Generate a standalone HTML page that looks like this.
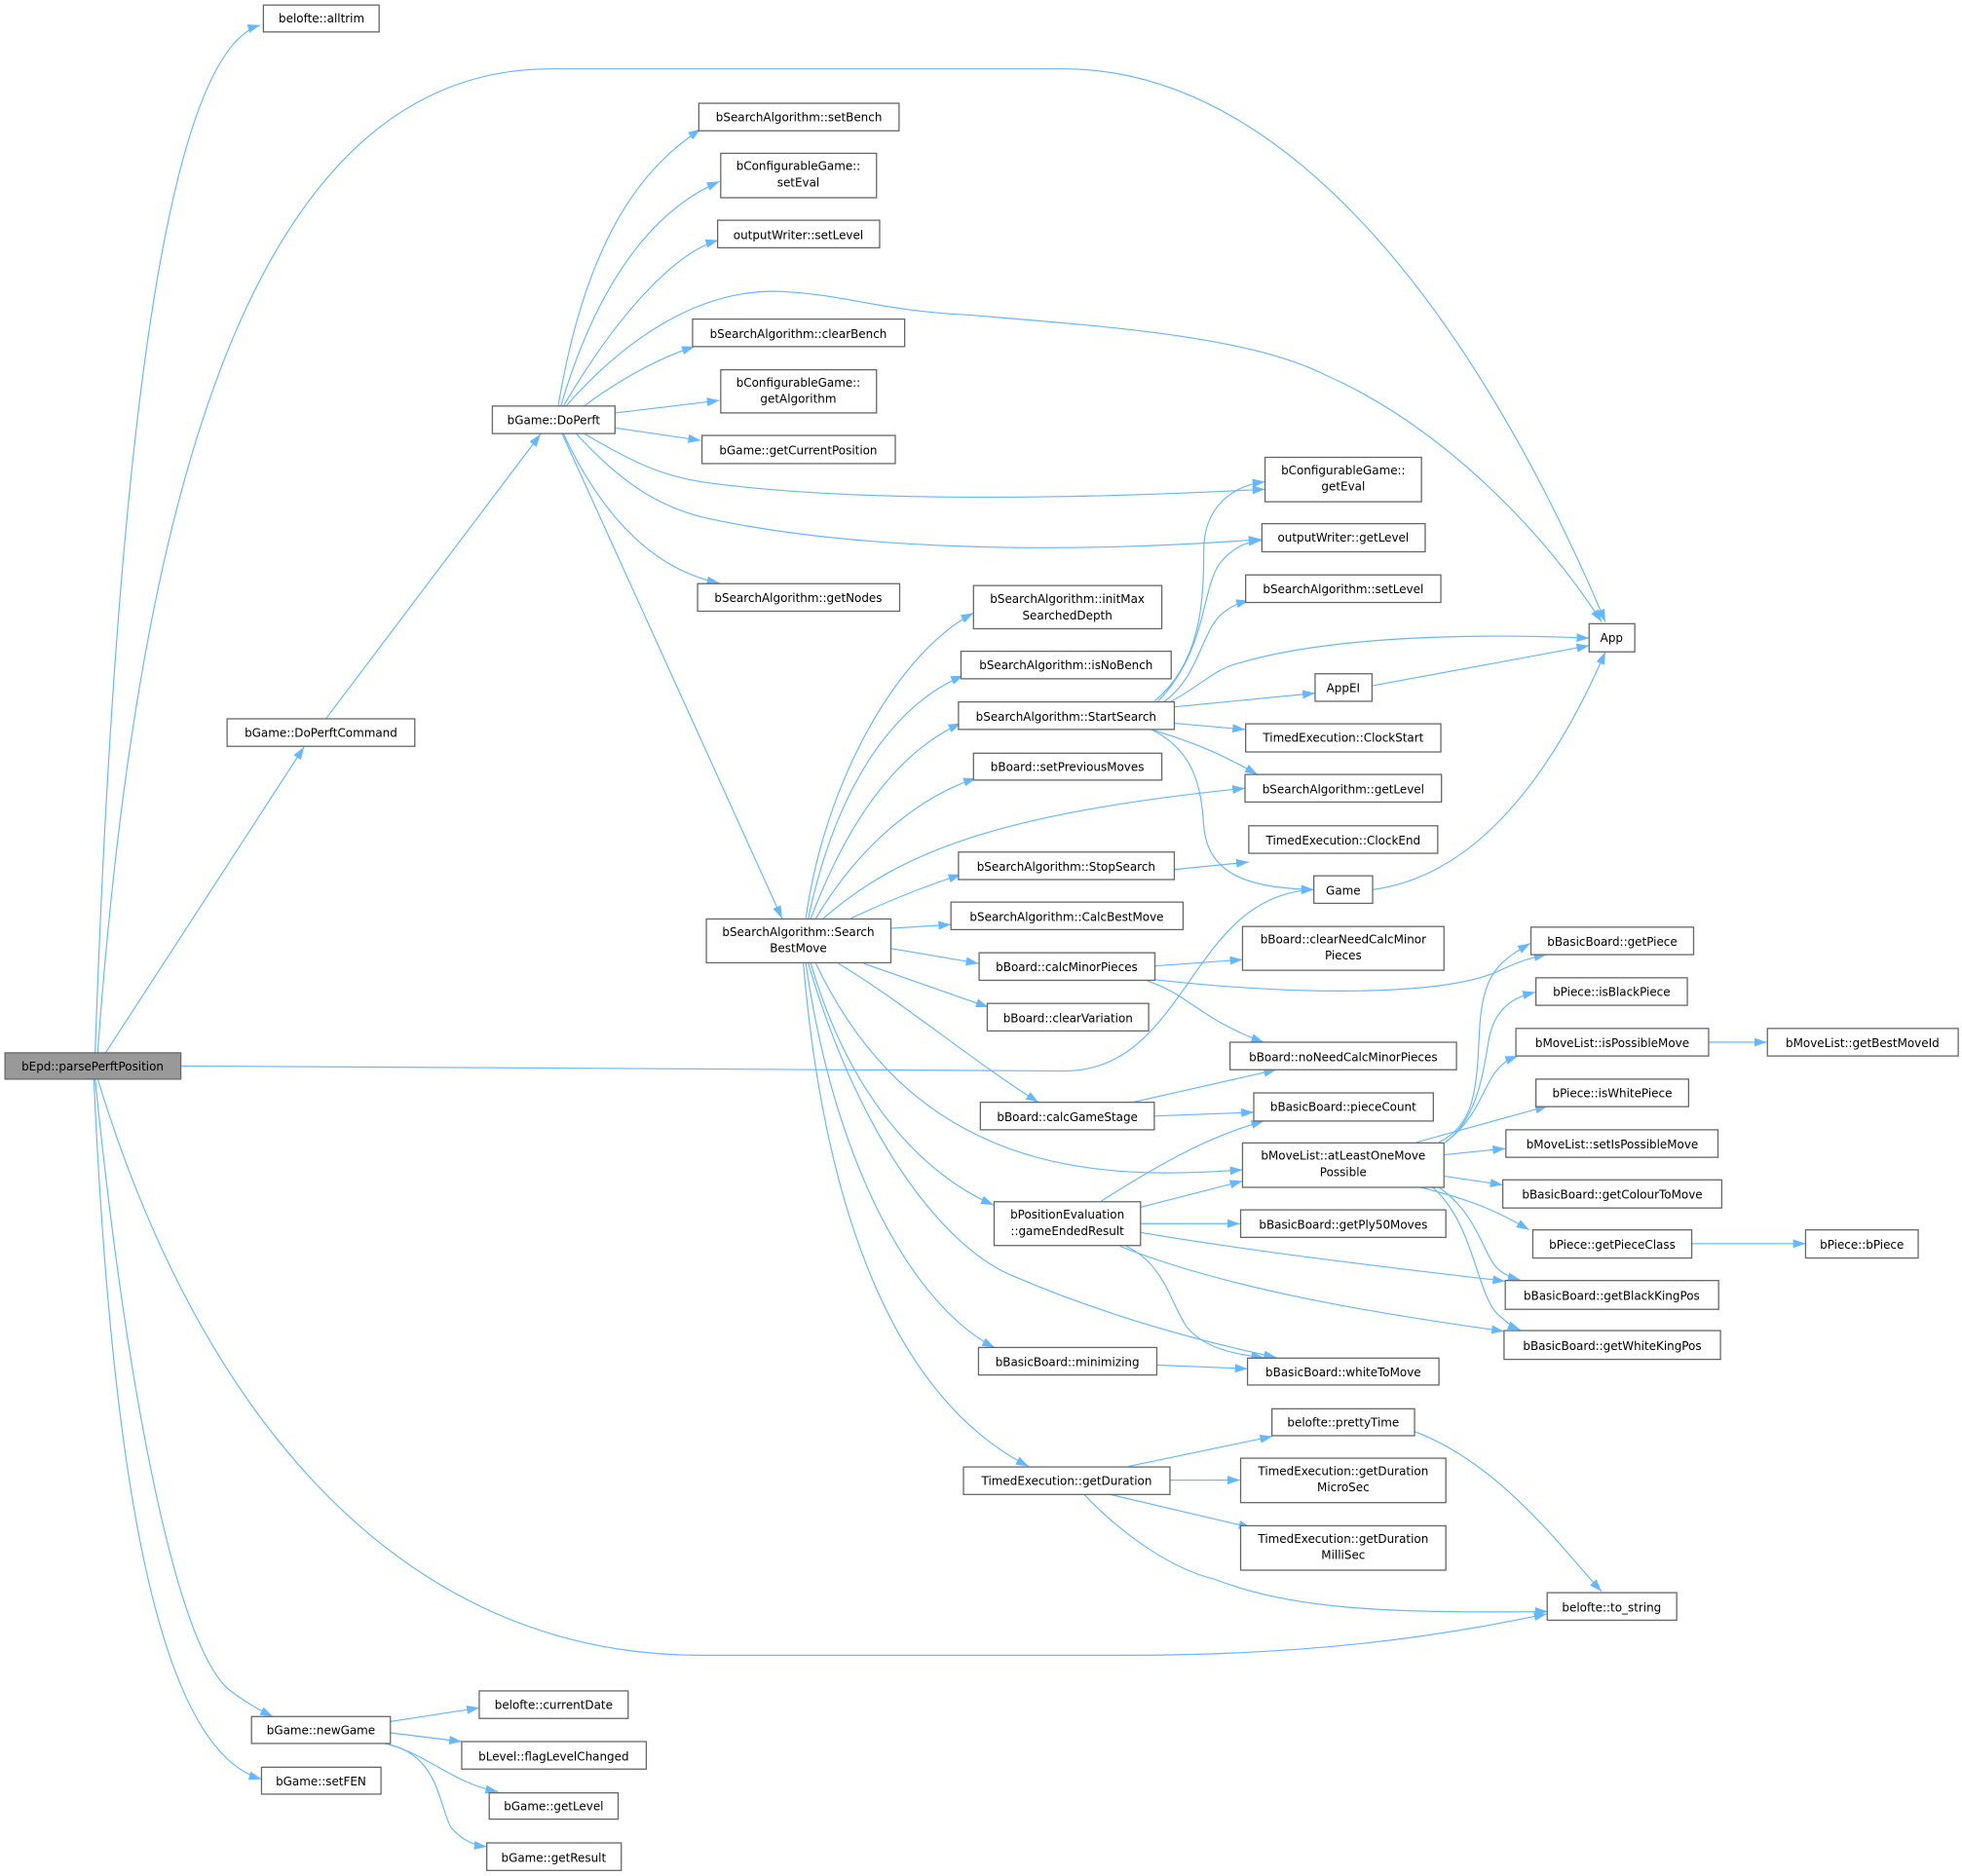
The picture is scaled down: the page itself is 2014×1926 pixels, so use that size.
<!DOCTYPE html>
<html><head><meta charset="utf-8"><style>
html,body{margin:0;padding:0;background:#fff;}
svg{display:block;}
text{font-family:"DejaVu Sans","Liberation Sans",sans-serif;font-size:9.3px;fill:#000;text-anchor:middle;}
.n{fill:#fff;stroke:#666;stroke-width:1;}
.e{fill:none;stroke:#63b8ff;stroke-width:0.9;marker-end:url(#a);}
</style></head><body>
<svg width="2014" height="1926" viewBox="0 0 1568 1499.4" xmlns="http://www.w3.org/2000/svg">
<defs><marker id="a" markerUnits="userSpaceOnUse" markerWidth="10" markerHeight="8" refX="10" refY="3.5" orient="auto"><path d="M0,0 L10,3.5 L0,7 z" fill="#63b8ff"/></marker></defs>

<!-- edges -->
<path class="e" d="M76,842 C95,300 140,40 208,20"/>
<path class="e" d="M78,842 C110,400 200,55 440,55 L850,55 C1050,55 1200,300 1283,497"/>
<path class="e" d="M84,842 L243,597"/>
<path class="e" d="M260,575 L432,347"/>
<path class="e" d="M145,852 L850,856 C950,856 950,715 1050,711"/>
<path class="e" d="M78,862 C150,1100 300,1323 560,1323 L900,1323 C1050,1323 1150,1308 1236,1290"/>
<path class="e" d="M76,862 C100,1100 140,1320 185,1352 C200,1363 208,1367 218,1372"/>
<path class="e" d="M75,862 C90,1200 130,1400 209,1422"/>

<path class="e" d="M446,325 C470,180 520,130 560,103"/>
<path class="e" d="M448,325 C485,200 540,160 575,145"/>
<path class="e" d="M450,325 C500,240 545,200 574,192"/>
<path class="e" d="M452,325 C500,270 560,230 625,233 C680,236 700,248 778,252 C900,262 1000,270 1060,300 C1150,340 1230,420 1280,497"/>
<path class="e" d="M466,325 C500,300 530,285 555,277"/>
<path class="e" d="M492,330 L575,320"/>
<path class="e" d="M492,342 L560,352"/>
<path class="e" d="M466,346 C510,372 530,380 560,385 C650,398 800,402 1011,391"/>
<path class="e" d="M460,346 C500,390 530,405 560,413 C680,440 850,443 1008,431"/>
<path class="e" d="M450,346 C480,410 520,455 575,466"/>
<path class="e" d="M449,346 L625,734"/>

<path class="e" d="M644,734 C660,620 720,520 778,490"/>
<path class="e" d="M646,734 C670,620 720,560 770,540"/>
<path class="e" d="M648,734 C680,650 720,600 768,578"/>
<path class="e" d="M652,734 C690,670 740,635 780,622"/>
<path class="e" d="M658,734 C720,680 800,650 995,630"/>
<path class="e" d="M680,734 C710,720 740,708 768,699"/>
<path class="e" d="M712,742 L760,739"/>
<path class="e" d="M712,758 L782,770"/>
<path class="e" d="M690,770 L790,805"/>
<path class="e" d="M670,770 C720,800 780,850 830,881"/>
<path class="e" d="M652,770 C690,850 750,910 850,930 C900,940 950,938 993,935"/>
<path class="e" d="M648,770 C680,880 740,940 794,963"/>
<path class="e" d="M646,770 C690,920 760,1000 810,1020 C880,1050 950,1070 1020,1085"/>
<path class="e" d="M644,770 C670,950 740,1050 795,1077"/>
<path class="e" d="M642,770 C660,980 720,1120 822,1172"/>

<path class="e" d="M922,561 C960,530 962,480 962,440 C962,405 985,388 1011,385"/>
<path class="e" d="M925,561 C965,520 960,470 975,450 C985,438 995,433 1008,432"/>
<path class="e" d="M930,561 C960,540 960,500 980,488 C985,484 990,482 998,480"/>
<path class="e" d="M935,561 C960,548 970,535 990,530 C1050,512 1150,505 1270,510"/>
<path class="e" d="M938,565 L1051,554"/>
<path class="e" d="M1097,548 L1270,516"/>
<path class="e" d="M938,578 L995,583"/>
<path class="e" d="M920,583 C960,595 980,605 1005,619"/>
<path class="e" d="M920,583 C955,600 960,630 962,660 C965,700 1000,710 1050,711"/>
<path class="e" d="M938,695 L998,689"/>
<path class="e" d="M1097,711 C1180,700 1240,620 1283,521"/>

<path class="e" d="M923,772 L993,767"/>
<path class="e" d="M923,783 C1050,797 1160,795 1200,775 C1215,768 1225,765 1236,763"/>
<path class="e" d="M917,784 C950,795 960,815 1010,833"/>
<path class="e" d="M905,881 L1020,855"/>
<path class="e" d="M922,892 L1002,889"/>
<path class="e" d="M880,960 C920,935 960,910 1010,896"/>
<path class="e" d="M911,965 L993,944"/>
<path class="e" d="M911,978 L991,978"/>
<path class="e" d="M911,985 C1000,1000 1100,1012 1203,1024"/>
<path class="e" d="M895,996 C980,1030 1100,1050 1202,1064"/>
<path class="e" d="M900,996 C930,1010 935,1040 948,1060 C960,1075 980,1082 1010,1085"/>
<path class="e" d="M924,1091 L997,1094"/>

<path class="e" d="M1150,913 C1175,900 1180,880 1182,830 C1184,780 1195,770 1223,754"/>
<path class="e" d="M1155,913 C1180,895 1185,860 1190,830 C1195,805 1210,797 1227,793"/>
<path class="e" d="M1155,913 C1180,895 1185,870 1195,857 C1200,850 1205,847 1213,844"/>
<path class="e" d="M1132,913 L1237,884"/>
<path class="e" d="M1154,923 L1203,918"/>
<path class="e" d="M1154,940 L1201,947"/>
<path class="e" d="M1135,949 C1180,960 1200,970 1222,983"/>
<path class="e" d="M1150,949 C1180,970 1185,1000 1195,1012 C1200,1018 1207,1021 1215,1023"/>
<path class="e" d="M1145,949 C1180,980 1180,1040 1200,1053 C1205,1058 1210,1061 1215,1063"/>
<path class="e" d="M1366,833 L1412,833"/>
<path class="e" d="M1352,994 L1443,994"/>

<path class="e" d="M902,1172 L1017,1148"/>
<path class="e" d="M935,1183 L991,1183"/>
<path class="e" d="M885,1194 L1000,1221"/>
<path class="e" d="M866,1194 C900,1230 940,1255 970,1262 C1030,1285 1100,1290 1237,1288"/>
<path class="e" d="M1130,1144 C1200,1170 1250,1240 1280,1272"/>

<path class="e" d="M312,1376 L383,1365"/>
<path class="e" d="M312,1385 L369,1392"/>
<path class="e" d="M305,1393 C340,1400 360,1425 398,1432"/>
<path class="e" d="M305,1393 C350,1400 350,1440 360,1460 C370,1472 380,1475 389,1476"/>

<!-- nodes -->
<rect x="4" y="841.5" width="140.5" height="21" fill="#999" stroke="#666"/><text x="74" y="855.5">bEpd::parsePerftPosition</text>
<rect class="n" x="210.5" y="4" width="92.5" height="21.5"/><text x="257" y="18">belofte::alltrim</text>
<rect class="n" x="1270" y="498.5" width="36.5" height="22.5"/><text x="1288" y="513">App</text>
<rect class="n" x="558.5" y="82.5" width="160" height="22"/><text x="638.5" y="97">bSearchAlgorithm::setBench</text>
<rect class="n" x="576" y="122.5" width="124.5" height="35.5"/><text x="638" y="136">bConfigurableGame::</text><text x="638" y="149">setEval</text>
<rect class="n" x="573.5" y="176" width="129.5" height="22"/><text x="638" y="191">outputWriter::setLevel</text>
<rect class="n" x="553.5" y="255" width="169.5" height="22"/><text x="638" y="270">bSearchAlgorithm::clearBench</text>
<rect class="n" x="576" y="295.5" width="124.5" height="34.5"/><text x="638" y="309">bConfigurableGame::</text><text x="638" y="322">getAlgorithm</text>
<rect class="n" x="561" y="348" width="154.5" height="22.5"/><text x="638" y="363">bGame::getCurrentPosition</text>
<rect class="n" x="393.5" y="324.5" width="98" height="22"/><text x="442.5" y="339">bGame::DoPerft</text>
<rect class="n" x="557.5" y="466.5" width="161.5" height="22"/><text x="638" y="481">bSearchAlgorithm::getNodes</text>
<rect class="n" x="181.5" y="574.5" width="150" height="22"/><text x="256.5" y="589">bGame::DoPerftCommand</text>
<rect class="n" x="1011" y="365.5" width="125" height="35.5"/><text x="1073.5" y="379">bConfigurableGame::</text><text x="1073.5" y="392">getEval</text>
<rect class="n" x="1008.5" y="418.5" width="130.5" height="22.5"/><text x="1073.5" y="433">outputWriter::getLevel</text>
<rect class="n" x="995.5" y="459.5" width="156" height="22"/><text x="1073.5" y="474">bSearchAlgorithm::setLevel</text>
<rect class="n" x="778" y="468" width="150.5" height="34.5"/><text x="853" y="482">bSearchAlgorithm::initMax</text><text x="853" y="495">SearchedDepth</text>
<rect class="n" x="768" y="520.5" width="168" height="22"/><text x="852" y="535">bSearchAlgorithm::isNoBench</text>
<rect class="n" x="766" y="561" width="172.5" height="22"/><text x="852" y="576">bSearchAlgorithm::StartSearch</text>
<rect class="n" x="1051" y="538.5" width="45.5" height="22"/><text x="1073.5" y="553">AppEI</text>
<rect class="n" x="995.5" y="578.5" width="156" height="22.5"/><text x="1073.5" y="593">TimedExecution::ClockStart</text>
<rect class="n" x="778" y="602" width="150.5" height="21.5"/><text x="853" y="616">bBoard::setPreviousMoves</text>
<rect class="n" x="995" y="619" width="157" height="22"/><text x="1073.5" y="634">bSearchAlgorithm::getLevel</text>
<rect class="n" x="998" y="660" width="151" height="22"/><text x="1073.5" y="675">TimedExecution::ClockEnd</text>
<rect class="n" x="766" y="681" width="172.5" height="22"/><text x="852" y="696">bSearchAlgorithm::StopSearch</text>
<rect class="n" x="1050" y="700" width="47" height="22"/><text x="1073.5" y="715">Game</text>
<rect class="n" x="760" y="721" width="185.5" height="22"/><text x="852.5" y="736">bSearchAlgorithm::CalcBestMove</text>
<rect class="n" x="564.5" y="734.5" width="147.5" height="35"/><text x="638" y="748">bSearchAlgorithm::Search</text><text x="638" y="761">BestMove</text>
<rect class="n" x="782.5" y="761.5" width="140.5" height="22"/><text x="852.5" y="776">bBoard::calcMinorPieces</text>
<rect class="n" x="993" y="740.5" width="161" height="35"/><text x="1073.5" y="754">bBoard::clearNeedCalcMinor</text><text x="1073.5" y="767">Pieces</text>
<rect class="n" x="1223.5" y="741" width="130" height="22"/><text x="1288.5" y="756">bBasicBoard::getPiece</text>
<rect class="n" x="789" y="802" width="129" height="22"/><text x="853.5" y="817">bBoard::clearVariation</text>
<rect class="n" x="1227.5" y="781.5" width="121" height="22"/><text x="1288" y="796">bPiece::isBlackPiece</text>
<rect class="n" x="1211.5" y="822" width="154" height="22"/><text x="1288.5" y="837">bMoveList::isPossibleMove</text>
<rect class="n" x="1412.5" y="822" width="152.5" height="22"/><text x="1488.5" y="837">bMoveList::getBestMoveId</text>
<rect class="n" x="983" y="833" width="181" height="22"/><text x="1073.5" y="848">bBoard::noNeedCalcMinorPieces</text>
<rect class="n" x="1227.5" y="862.5" width="122" height="22"/><text x="1288.5" y="877">bPiece::isWhitePiece</text>
<rect class="n" x="783.5" y="881" width="139" height="22"/><text x="853" y="896">bBoard::calcGameStage</text>
<rect class="n" x="1002" y="873.5" width="143.5" height="22.5"/><text x="1073.5" y="888">bBasicBoard::pieceCount</text>
<rect class="n" x="1203.5" y="903" width="169.5" height="22"/><text x="1288.5" y="918">bMoveList::setIsPossibleMove</text>
<rect class="n" x="993" y="913.5" width="161" height="35.5"/><text x="1073.5" y="927">bMoveList::atLeastOneMove</text><text x="1073.5" y="940">Possible</text>
<rect class="n" x="1201" y="943" width="175" height="22.5"/><text x="1288.5" y="958">bBasicBoard::getColourToMove</text>
<rect class="n" x="794.5" y="960.5" width="117" height="35"/><text x="853" y="974">bPositionEvaluation</text><text x="853" y="987">::gameEndedResult</text>
<rect class="n" x="991.5" y="967" width="164" height="22"/><text x="1073.5" y="982">bBasicBoard::getPly50Moves</text>
<rect class="n" x="1225" y="983" width="127" height="22.5"/><text x="1288.5" y="998">bPiece::getPieceClass</text>
<rect class="n" x="1443" y="983" width="90" height="22.5"/><text x="1488" y="998">bPiece::bPiece</text>
<rect class="n" x="1203" y="1023.5" width="170.5" height="23"/><text x="1288" y="1039">bBasicBoard::getBlackKingPos</text>
<rect class="n" x="1202" y="1063.5" width="173" height="23"/><text x="1288.5" y="1079">bBasicBoard::getWhiteKingPos</text>
<rect class="n" x="782" y="1077" width="142.5" height="22"/><text x="853" y="1092">bBasicBoard::minimizing</text>
<rect class="n" x="997" y="1085.5" width="153" height="21.5"/><text x="1073.5" y="1100">bBasicBoard::whiteToMove</text>
<rect class="n" x="1016.5" y="1126" width="114" height="21.5"/><text x="1073.5" y="1140">belofte::prettyTime</text>
<rect class="n" x="770" y="1172.5" width="165" height="22"/><text x="852.5" y="1187">TimedExecution::getDuration</text>
<rect class="n" x="991.5" y="1165.5" width="164" height="35.5"/><text x="1073.5" y="1179">TimedExecution::getDuration</text><text x="1073.5" y="1192">MicroSec</text>
<rect class="n" x="991.5" y="1219.5" width="164" height="35.5"/><text x="1073.5" y="1233">TimedExecution::getDuration</text><text x="1073.5" y="1246">MilliSec</text>
<rect class="n" x="1236.5" y="1273" width="103.5" height="22"/><text x="1288" y="1288">belofte::to_string</text>
<rect class="n" x="201" y="1372" width="111" height="21.5"/><text x="256.5" y="1386">bGame::newGame</text>
<rect class="n" x="383" y="1351.5" width="119" height="22"/><text x="442.5" y="1366">belofte::currentDate</text>
<rect class="n" x="369" y="1392" width="147.5" height="22"/><text x="442.5" y="1407">bLevel::flagLevelChanged</text>
<rect class="n" x="209" y="1412.5" width="95.5" height="21.5"/><text x="256.5" y="1427">bGame::setFEN</text>
<rect class="n" x="391" y="1433" width="103" height="21"/><text x="442.5" y="1447">bGame::getLevel</text>
<rect class="n" x="389" y="1473" width="107.5" height="22"/><text x="442.5" y="1488">bGame::getResult</text>
</svg>
</body></html>
